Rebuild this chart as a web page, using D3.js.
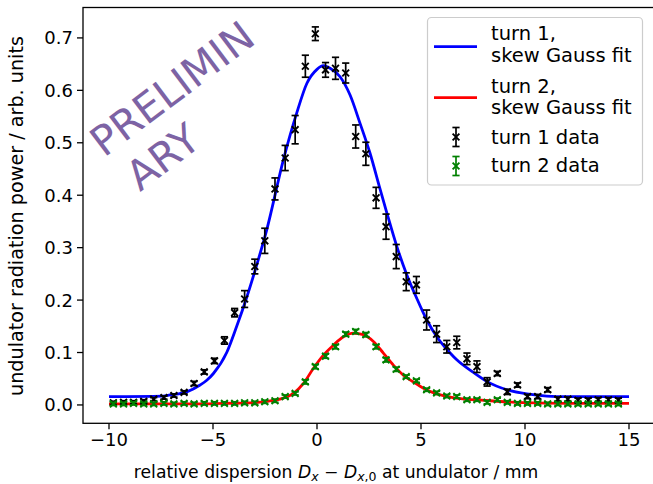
<!DOCTYPE html>
<html>
<head>
<meta charset="utf-8">
<script src="https://d3js.org/d3.v7.min.js"></script>
<style>
  body { margin: 0; background: #fff; }
  svg text { font-family: "DejaVu Sans", sans-serif; fill: #000; }
</style>
</head>
<body>
<div id="chart"></div>
<script>
// measured dispersion settings (mm), same for both turns
var xs = [-9.79, -9.30, -8.82, -8.33, -7.85, -7.36, -6.88, -6.39, -5.91, -5.42,
          -4.93, -4.45, -3.96, -3.48, -2.99, -2.51, -2.02, -1.53, -1.05, -0.56,
          -0.08, 0.41, 0.89, 1.38, 1.86, 2.35, 2.84, 3.32, 3.81, 4.29,
          4.78, 5.27, 5.75, 6.24, 6.72, 7.21, 7.69, 8.18, 8.67, 9.15,
          9.64, 10.12, 10.61, 11.09, 11.58, 12.06, 12.55, 13.04, 13.52, 14.01, 14.49];

var turn1 = [0.004, 0.005, 0.005, 0.007, 0.011, 0.014, 0.018, 0.024, 0.041, 0.063,
             0.084, 0.123, 0.176, 0.202, 0.264, 0.313, 0.412, 0.471, 0.525, 0.646,
             0.708, 0.639, 0.642, 0.633, 0.512, 0.479, 0.395, 0.340, 0.283, 0.235,
             0.229, 0.162, 0.135, 0.111, 0.119, 0.088, 0.073, 0.044, 0.060, 0.025,
             0.038, 0.016, 0.016, 0.029, 0.011, 0.011, 0.009, 0.009, 0.010, 0.010, 0.009];
var turn1Err = [0.003, 0.003, 0.003, 0.003, 0.003, 0.003, 0.003, 0.003, 0.004, 0.004,
                0.005, 0.007, 0.008, 0.016, 0.014, 0.024, 0.021, 0.024, 0.027, 0.021,
                0.013, 0.014, 0.021, 0.019, 0.022, 0.022, 0.020, 0.024, 0.023, 0.017,
                0.016, 0.019, 0.016, 0.012, 0.012, 0.011, 0.011, 0.008, 0.004, 0.005,
                0.004, 0.004, 0.004, 0.004, 0.004, 0.004, 0.004, 0.004, 0.004, 0.004, 0.004];

var turn2 = [0.002, 0.002, 0.003, 0.002, 0.002, 0.003, 0.002, 0.003, 0.002, 0.003,
             0.003, 0.003, 0.003, 0.004, 0.004, 0.006, 0.008, 0.016, 0.022, 0.044,
             0.073, 0.093, 0.111, 0.135, 0.140, 0.134, 0.111, 0.086, 0.068, 0.054,
             0.046, 0.029, 0.023, 0.017, 0.016, 0.010, 0.010, 0.005, 0.010, 0.005,
             0.003, 0.003, 0.003, 0.002, 0.002, 0.002, 0.002, 0.002, 0.002, 0.002, 0.002];
var turn2Err = [0.003, 0.003, 0.003, 0.003, 0.003, 0.003, 0.003, 0.003, 0.003, 0.003,
                0.003, 0.003, 0.003, 0.003, 0.003, 0.003, 0.003, 0.003, 0.003, 0.004,
                0.004, 0.004, 0.004, 0.004, 0.004, 0.004, 0.004, 0.004, 0.004, 0.003,
                0.003, 0.003, 0.003, 0.003, 0.003, 0.003, 0.003, 0.003, 0.003, 0.003,
                0.003, 0.003, 0.003, 0.003, 0.003, 0.003, 0.003, 0.003, 0.003, 0.003, 0.003];

// skew Gauss fit curves
var fit1X = [-10, -7.4, -7.07, -6.26, -5.62, -5.3, -4.98, -4.34, -3.86, -3.38, -2.89, -2.41,
             -1.62, -0.98, -0.49, 0, 0.3, 0.63, 1.11, 1.59, 2.07, 2.55, 3.03, 3.36,
             3.84, 4.32, 4.80, 5.28, 5.76, 6.40, 6.72, 7.52, 8.16, 9.13, 10.09, 11.05, 12, 15];
var fit1Y = [0.016, 0.017, 0.019, 0.025, 0.038, 0.047, 0.060, 0.100, 0.150, 0.205, 0.268, 0.335,
             0.467, 0.556, 0.613, 0.640, 0.647, 0.642, 0.626, 0.591, 0.537, 0.480, 0.412, 0.366,
             0.302, 0.248, 0.203, 0.162, 0.130, 0.099, 0.086, 0.062, 0.045, 0.029, 0.021, 0.017, 0.016, 0.016];

var fit2X = [-10, -6, -4.5, -3.22, -2.4, -1.62, -1.13, -0.65, -0.17, 0.31, 0.79, 1.27, 1.75,
             2.23, 2.71, 3.19, 3.67, 4.15, 4.63, 5.12, 5.76, 6.40, 8.32, 9.92, 12, 15];
var fit2Y = [0.002, 0.002, 0.003, 0.004, 0.007, 0.013, 0.022, 0.041, 0.070, 0.095, 0.114, 0.130, 0.137,
             0.134, 0.121, 0.099, 0.076, 0.057, 0.044, 0.032, 0.021, 0.015, 0.008, 0.0045, 0.003, 0.003];

var xTicks = [-10, -5, 0, 5, 10, 15];
var yTicks = [0.0, 0.1, 0.2, 0.3, 0.4, 0.5, 0.6, 0.7];

var width = 653, height = 484;
var padL = 83, padR = 655, padT = 7.5, padB = 423.3;

var svg = d3.select("#chart").append("svg")
  .attr("width", width)
  .attr("height", height);

var x = d3.scaleLinear().domain([-11.25, 16.25]).range([padL, padR]);
var y = d3.scaleLinear().domain([-0.035, 0.758]).range([padB, padT]);

var plot = svg.append("g");

// fit lines
var line = d3.line()
  .x(function(d){ return x(d[0]); })
  .y(function(d){ return y(d[1]); })
  .curve(d3.curveMonotoneX);

plot.append("path")
  .datum(d3.zip(fit1X, fit1Y))
  .attr("d", line)
  .attr("fill", "none")
  .attr("stroke", "#0000ff")
  .attr("stroke-width", 2.8);

plot.append("path")
  .datum(d3.zip(fit2X, fit2Y))
  .attr("d", line)
  .attr("fill", "none")
  .attr("stroke", "#ff0000")
  .attr("stroke-width", 2.8);

// errorbar + x marker drawing
function drawErrorbars(g, vals, errs, color) {
  var pts = xs.map(function(v, i){ return {x: v, y: vals[i], e: errs[i]}; });
  var cap = 3.6, m = 3.4;
  var grp = g.selectAll(null).data(pts).enter().append("g")
    .attr("stroke", color)
    .attr("stroke-width", 1.7)
    .attr("fill", "none");
  grp.append("line")
    .attr("x1", function(d){ return x(d.x); })
    .attr("x2", function(d){ return x(d.x); })
    .attr("y1", function(d){ return y(d.y - d.e); })
    .attr("y2", function(d){ return y(d.y + d.e); });
  grp.append("line")
    .attr("x1", function(d){ return x(d.x) - cap; })
    .attr("x2", function(d){ return x(d.x) + cap; })
    .attr("y1", function(d){ return y(d.y - d.e); })
    .attr("y2", function(d){ return y(d.y - d.e); });
  grp.append("line")
    .attr("x1", function(d){ return x(d.x) - cap; })
    .attr("x2", function(d){ return x(d.x) + cap; })
    .attr("y1", function(d){ return y(d.y + d.e); })
    .attr("y2", function(d){ return y(d.y + d.e); });
  grp.append("path")
    .attr("d", function(d){
      var cx = x(d.x), cy = y(d.y);
      return "M" + (cx - m) + "," + (cy - m) + "L" + (cx + m) + "," + (cy + m) +
             "M" + (cx - m) + "," + (cy + m) + "L" + (cx + m) + "," + (cy - m);
    })
    .attr("stroke-width", 1.9);
}

drawErrorbars(plot, turn1, turn1Err, "#000000");
drawErrorbars(plot, turn2, turn2Err, "#008000");

// spines
var axisColor = "#000";
svg.append("rect")
  .attr("x", padL).attr("y", padT)
  .attr("width", padR - padL).attr("height", padB - padT)
  .attr("fill", "none")
  .attr("stroke", axisColor)
  .attr("stroke-width", 1.3);

// x axis
var xAxis = svg.append("g");
xAxis.selectAll(".xt").data(xTicks).enter().append("line")
  .attr("x1", function(d){ return x(d); })
  .attr("x2", function(d){ return x(d); })
  .attr("y1", padB)
  .attr("y2", padB + 6)
  .attr("stroke", axisColor)
  .attr("stroke-width", 1.3);
xAxis.selectAll(".xl").data(xTicks).enter().append("text")
  .attr("x", function(d){ return x(d); })
  .attr("y", padB + 23)
  .attr("text-anchor", "middle")
  .attr("font-size", "18px")
  .text(function(d){ return d < 0 ? "\u2212" + Math.abs(d) : d; });

// y axis
var yAxis = svg.append("g");
yAxis.selectAll(".yt").data(yTicks).enter().append("line")
  .attr("x1", padL - 6)
  .attr("x2", padL)
  .attr("y1", function(d){ return y(d); })
  .attr("y2", function(d){ return y(d); })
  .attr("stroke", axisColor)
  .attr("stroke-width", 1.3);
yAxis.selectAll(".yl").data(yTicks).enter().append("text")
  .attr("x", padL - 10)
  .attr("y", function(d){ return y(d) + 6.5; })
  .attr("text-anchor", "end")
  .attr("font-size", "18px")
  .text(function(d){ return d.toFixed(1); });

// axis labels
var xl = svg.append("text")
  .attr("x", 336)
  .attr("y", 478)
  .attr("text-anchor", "middle")
  .attr("font-size", "17.2px");
xl.append("tspan").text("relative dispersion ");
xl.append("tspan").attr("font-style", "italic").text("D");
xl.append("tspan").attr("font-style", "italic").attr("font-size", "12.5px").attr("dy", 3).text("x");
xl.append("tspan").attr("dy", -3).text(" \u2212 ");
xl.append("tspan").attr("font-style", "italic").text("D");
xl.append("tspan").attr("font-style", "italic").attr("font-size", "12.5px").attr("dy", 3).text("x");
xl.append("tspan").attr("font-size", "12.5px").text(",0");
xl.append("tspan").attr("dy", -3).text(" at undulator / mm");

svg.append("text")
  .attr("transform", "translate(23,216) rotate(-90)")
  .attr("text-anchor", "middle")
  .attr("font-size", "19.2px")
  .text("undulator radiation power / arb. units");

// watermark
var wm = svg.append("text")
  .attr("transform", "translate(104,158) rotate(-37)")
  .attr("font-size", "41px")
  .style("fill", "#7d63a4");
wm.append("tspan").attr("x", 0).attr("y", 0).text("PRELIMIN");
wm.append("tspan").attr("x", 8).attr("y", 49).text("ARY");

// legend
var lg = svg.append("g");
lg.append("rect")
  .attr("x", 427.5).attr("y", 17.5)
  .attr("width", 215).attr("height", 167.5)
  .attr("rx", 4)
  .attr("fill", "#fff").attr("fill-opacity", 0.8)
  .attr("stroke", "#cccccc").attr("stroke-width", 1.2);

lg.append("line").attr("x1", 434).attr("x2", 477).attr("y1", 46.7).attr("y2", 46.7)
  .attr("stroke", "#0000ff").attr("stroke-width", 2.8);
lg.append("line").attr("x1", 434).attr("x2", 477).attr("y1", 97.7).attr("y2", 97.7)
  .attr("stroke", "#ff0000").attr("stroke-width", 2.8);

var legendText = [["turn 1,", 40], ["skew Gauss fit", 62], ["turn 2,", 93], ["skew Gauss fit", 114],
                  ["turn 1 data", 144], ["turn 2 data", 172]];
lg.selectAll(".lt").data(legendText).enter().append("text")
  .attr("x", 491)
  .attr("y", function(d){ return d[1]; })
  .attr("font-size", "19.5px")
  .text(function(d){ return d[0]; });

function legendErr(cy, color) {
  var g = lg.append("g").attr("stroke", color).attr("stroke-width", 1.7).attr("fill", "none");
  g.append("line").attr("x1", 456).attr("x2", 456).attr("y1", cy - 9.5).attr("y2", cy + 9.5);
  g.append("line").attr("x1", 452.4).attr("x2", 459.6).attr("y1", cy - 9.5).attr("y2", cy - 9.5);
  g.append("line").attr("x1", 452.4).attr("x2", 459.6).attr("y1", cy + 9.5).attr("y2", cy + 9.5);
  g.append("path").attr("stroke-width", 1.9)
    .attr("d", "M452.6," + (cy - 3.4) + "L459.4," + (cy + 3.4) + "M452.6," + (cy + 3.4) + "L459.4," + (cy - 3.4));
}
legendErr(137, "#000000");
legendErr(166, "#008000");
</script>
</body>
</html>
